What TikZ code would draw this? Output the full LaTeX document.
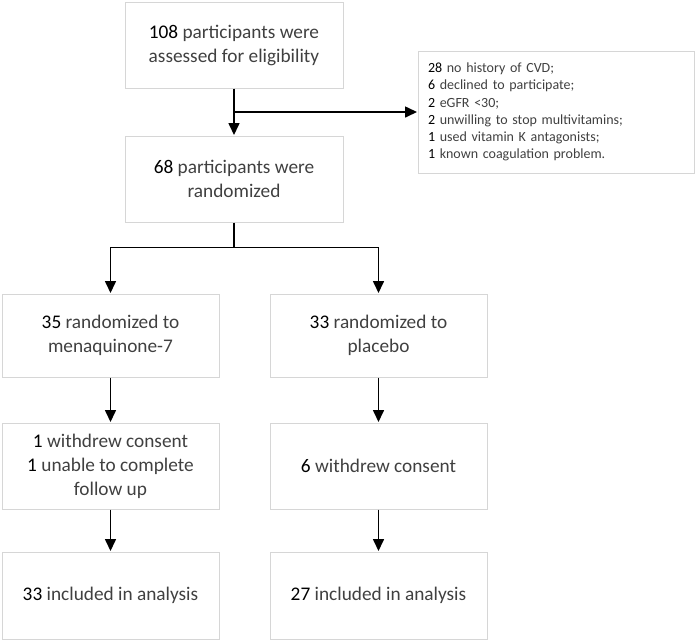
\documentclass[tikz,border=0pt]{standalone}
\usepackage{fontspec}
\setmainfont{Carlito}
\usetikzlibrary{arrows.meta}
\definecolor{boxline}{HTML}{D6D6D6}
\definecolor{txt}{HTML}{404040}
\newcommand{\num}[1]{\textcolor{black}{#1}}
\tikzset{
  box/.style={draw=boxline, line width=1pt, rectangle, inner sep=0pt,
    align=center, text=txt, font=\fontsize{19.3}{24}\selectfont},
  conn/.style={line width=1.6pt, draw=black},
  arr/.style={conn, -{Triangle[length=12pt,width=11pt]}, shorten >=0.5pt},
}
\begin{document}
\begin{tikzpicture}[x=1pt,y=-1pt]
\useasboundingbox (0,0) rectangle (696,641);
\node[box, minimum width=218pt, minimum height=86pt] (b1) at (234,45)
  {\num{108} participants were\\assessed for eligibility};
\node[box, minimum width=218pt, minimum height=86pt] (b2) at (234,179)
  {\num{68} participants were\\randomized};
\node[box, minimum width=276pt, minimum height=122pt, align=left,
  text width=256pt, font=\fontsize{14}{17.2}\selectfont] (ex) at (556,112)
  {\num{28} no history of CVD;\\
   \num{6} declined to participate;\\
   \num{2} eGFR {<}30;\\
   \num{2} unwilling to stop multivitamins;\\
   \num{1} used vitamin K antagonists;\\
   \num{1} known coagulation problem.};
\node[box, minimum width=217pt, minimum height=83pt] (b3) at (110.5,335.5)
  {\num{35} randomized to\\menaquinone-7};
\node[box, minimum width=217pt, minimum height=83pt] (b4) at (378.5,335.5)
  {\num{33} randomized to\\placebo};
\node[box, minimum width=217pt, minimum height=86pt] (b5) at (110.5,466)
  {\num{1} withdrew consent\\\num{1} unable to complete\\follow up};
\node[box, minimum width=217pt, minimum height=86pt] (b6) at (378.5,466)
  {\num{6} withdrew consent};
\node[box, minimum width=217pt, minimum height=87pt] (b7) at (110.5,595.5)
  {\num{33} included in analysis};
\node[box, minimum width=217pt, minimum height=87pt] (b8) at (378.5,595.5)
  {\num{27} included in analysis};
\coordinate (sp) at (234,247.5);
\draw[arr] (b1.south) -- (b2.north);
\draw[arr] (b1.south |- ex.west) -- (ex.west);
\draw[conn] (b2.south) -- (sp);
\draw[arr] (sp) -| (b3.north);
\draw[arr] (sp) -| (b4.north);
\draw[arr] (b3.south) -- (b5.north);
\draw[arr] (b4.south) -- (b6.north);
\draw[arr] (b5.south) -- (b7.north);
\draw[arr] (b6.south) -- (b8.north);
\end{tikzpicture}
\end{document}
